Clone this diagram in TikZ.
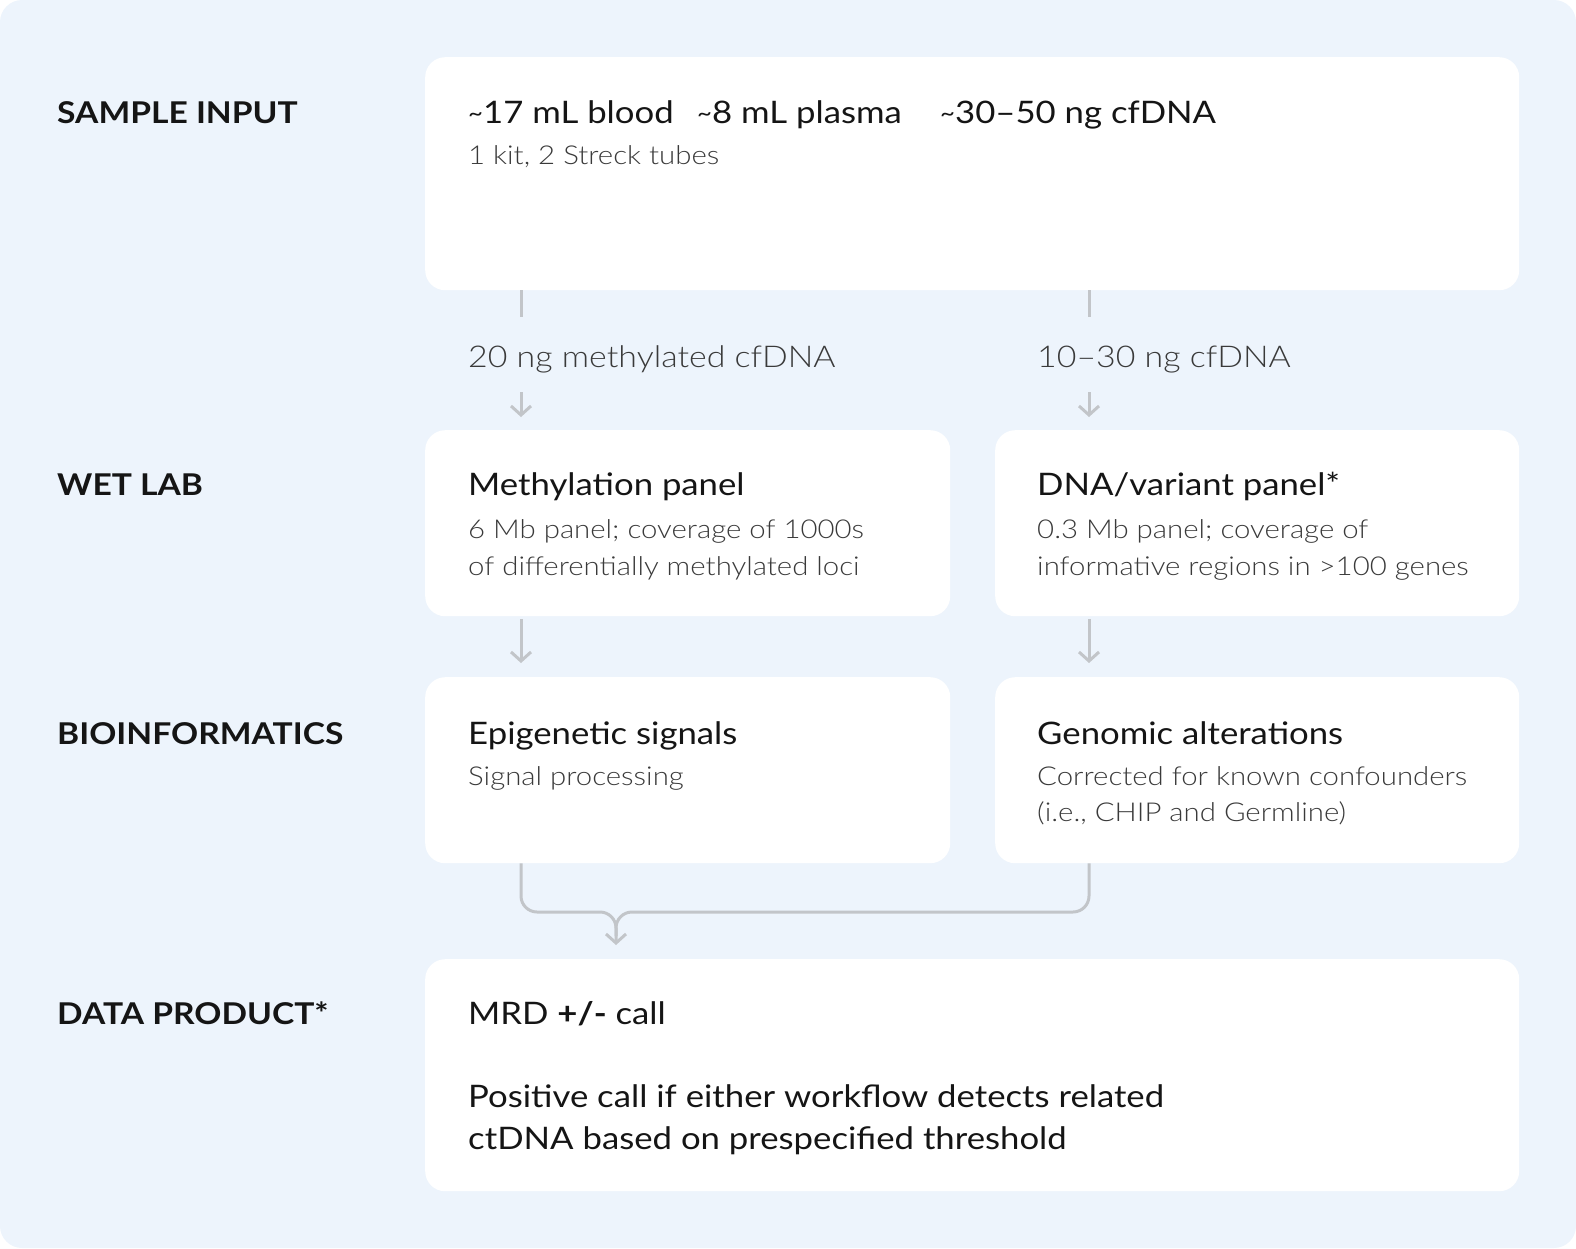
\documentclass[tikz,border=0pt]{standalone}
\usepackage{fontspec}
\setmainfont{Lato}[FakeStretch=1.12]
\newfontfamily\lightfont{Lato Light}[FakeStretch=1.13]
\usetikzlibrary{arrows.meta}
\definecolor{pagebg}{HTML}{EDF4FC}
\definecolor{linkgray}{HTML}{C2C5C9}
\definecolor{ink}{HTML}{151515}
\definecolor{subink}{HTML}{3A3A3A}
\newcommand\tld{\raisebox{2pt}{\fontsize{23}{28}\selectfont\textasciitilde}}
\tikzset{
  card/.style={fill=white, rounded corners=20pt, anchor=north west, inner sep=0pt},
  stage/.style={anchor=base west, inner sep=0pt, text=ink,
    font=\fontsize{30}{36}\selectfont\bfseries},
  head/.style={anchor=base west, inner sep=0pt, text=ink,
    font=\fontsize{31}{37}\selectfont},
  amount/.style={anchor=base west, inner sep=0pt, text=subink,
    font=\lightfont\fontsize{30}{36}\selectfont},
  sub/.style={anchor=base west, inner sep=0pt, text=subink,
    font=\lightfont\fontsize{26}{37}\selectfont},
  link/.style={draw=linkgray, line width=3pt},
  flow/.style={link, -{Straight Barb[length=9pt,width=20pt]}}
}
\begin{document}
\begin{tikzpicture}[x=1pt,y=-1pt]
\useasboundingbox (0,0) rectangle (1576,1248);
\fill[pagebg, rounded corners=22pt] (0,0) rectangle (1576,1248);
% cards
\node[card, minimum width=1094pt, minimum height=233pt] (input) at (425,57) {};
\node[card, minimum width=525pt, minimum height=186pt] (meth) at (425,430) {};
\node[card, minimum width=524pt, minimum height=186pt] (dna) at (995,430) {};
\node[card, minimum width=525pt, minimum height=186pt] (epi) at (425,677) {};
\node[card, minimum width=524pt, minimum height=186pt] (geno) at (995,677) {};
\node[card, minimum width=1094pt, minimum height=232pt] (product) at (425,959) {};
% stage labels
\node[stage] (sInput) at (57,123) {SAMPLE INPUT};
\node[stage] (sWet) at (57,495) {WET LAB};
\node[stage] (sBio) at (57,744) {BIOINFORMATICS};
\node[stage] (sData) at (57,1024) {DATA PRODUCT*};
% sample input
\node[head] (blood) at (468,123) {\tld17 mL blood};
\node[head] (plasma) at (697,123) {\tld8 mL plasma};
\node[head] (cfdna) at (940,123) {\tld30–50 ng cfDNA};
\node[sub] (kit) at (468,164) {1 kit, 2 Streck tubes};
\node[amount] (amtMeth) at (468,367) {20 ng methylated cfDNA};
\node[amount] (amtDna) at (1037,367) {10–30 ng cfDNA};
% wet lab
\node[head] (methT) at (468,495) {Methylation panel};
\node[sub] (methA) at (468,538) {6 Mb panel; coverage of 1000s};
\node[sub] (methB) at (468,575) {of differentially methylated loci};
\node[head] (dnaT) at (1037,495) {DNA/variant panel*};
\node[sub] (dnaA) at (1037,538) {0.3 Mb panel; coverage of};
\node[sub] (dnaB) at (1037,575) {informative regions in >100 genes};
% bioinformatics
\node[head] (epiT) at (468,744) {Epigenetic signals};
\node[sub] (epiA) at (468,785) {Signal processing};
\node[head] (genoT) at (1037,744) {Genomic alterations};
\node[sub] (genoA) at (1037,785) {Corrected for known confounders};
\node[sub] (genoB) at (1037,821) {(i.e., CHIP and Germline)};
% data product
\node[head] (mrd) at (468,1024) {MRD {\bfseries +/-} call};
\node[head] (posA) at (468,1107) {Positive call if either workflow detects related};
\node[head] (posB) at (468,1149) {ctDNA based on prespecified threshold};
% connectors
\coordinate (lx) at (521,0);
\coordinate (rx) at (1089,0);
\coordinate (joint) at (616,912);
\draw[link] (input.south -| lx) -- ++(0,27);
\draw[link] (input.south -| rx) -- ++(0,27);
\draw[flow] (meth.north -| lx) ++(0,-38) -- ++(0,25);
\draw[flow] (dna.north -| rx) ++(0,-38) -- ++(0,25);
\draw[flow, shorten <=3pt, shorten >=14pt] (meth.south -| lx) -- (epi.north -| lx);
\draw[flow, shorten <=3pt, shorten >=14pt] (dna.south -| rx) -- (geno.north -| rx);
\draw[link, rounded corners=16pt] (geno.south -| rx) |- (joint) -- ++(0,24);
\draw[flow, rounded corners=16pt, shorten >=14pt] (epi.south -| lx) |- (joint) -- (product.north -| joint);
\end{tikzpicture}
\end{document}
